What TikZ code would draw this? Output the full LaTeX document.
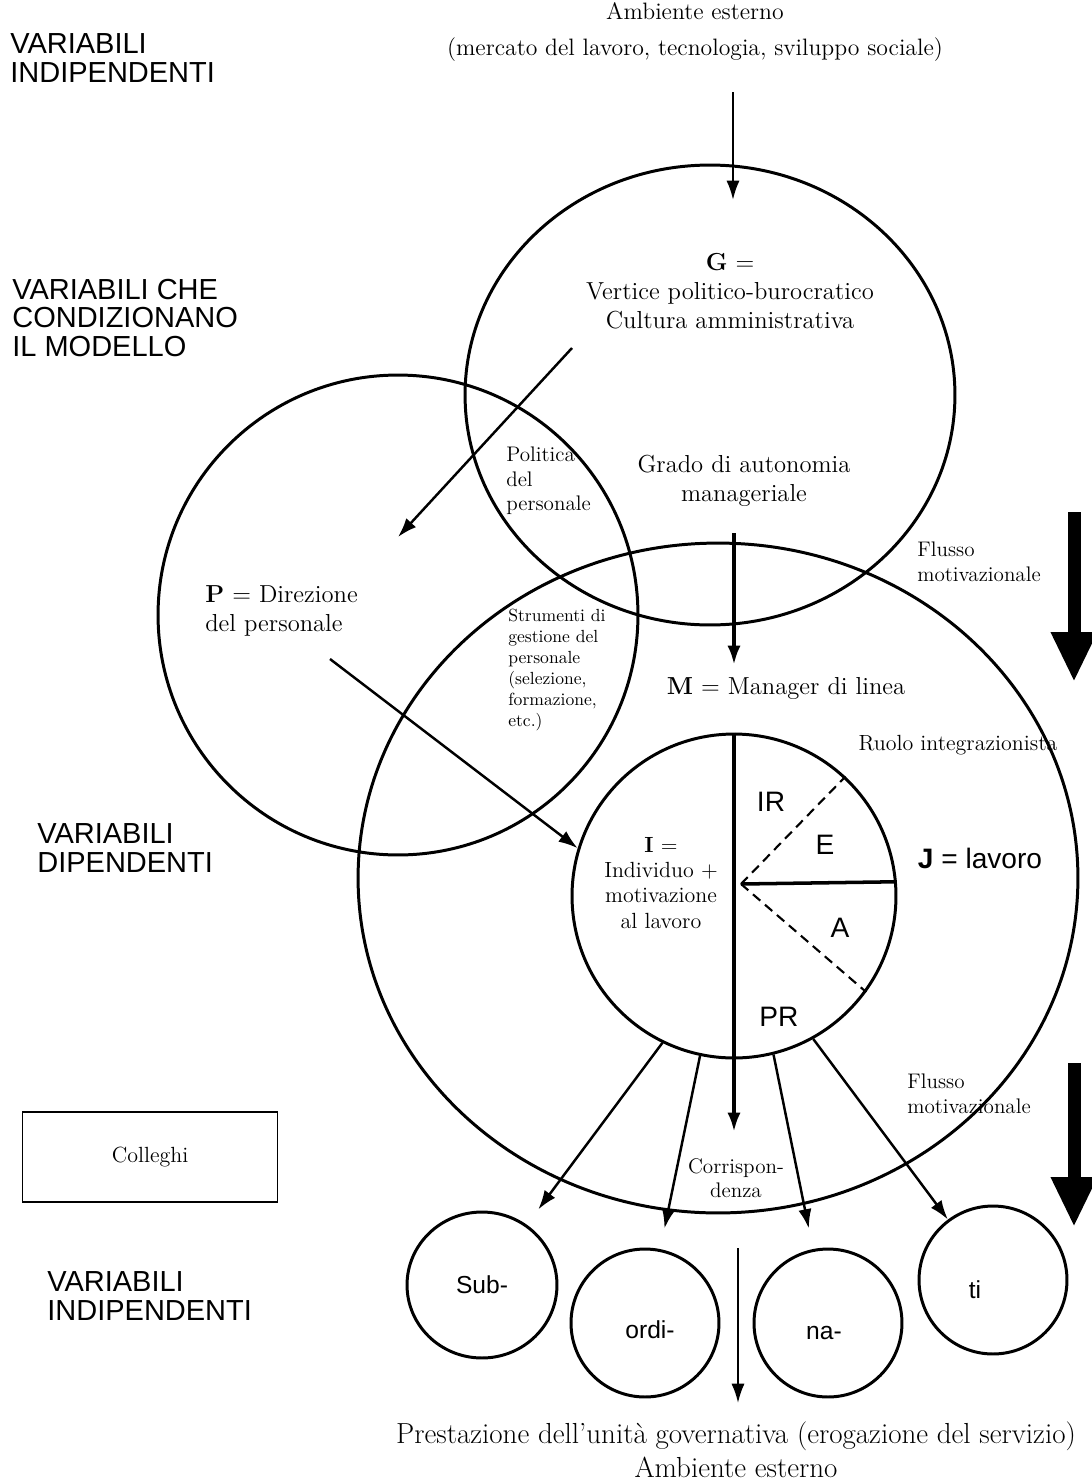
\documentclass[tikz,border=0pt]{standalone}
\usepackage{fontspec}
\setsansfont{Liberation Sans}
\usepackage{tikz}
\usetikzlibrary{shapes.geometric, arrows.meta, positioning}

\begin{document}
\begin{tikzpicture}[
    x=0.02cm, y=-0.02cm,
    ring/.style={draw, line width=1.7pt, inner sep=0pt},
    arr/.style={-{Latex[length=11pt,width=7.5pt]}, line width=1.4pt},
    heavy arr/.style={arr, line width=2.3pt},
    big arr/.style={-{Triangle[length=1cm,width=0.86cm]}, line width=0.26cm},
    txt/.style={font=\fontsize{14}{16.5}\selectfont, align=center, inner sep=0pt},
    note/.style={font=\fontsize{12}{14}\selectfont, align=left, inner sep=0pt},
    small note/.style={font=\fontsize{10}{12}\selectfont, align=left, inner sep=0pt},
    var/.style={font=\sffamily\fontsize{16.5}{16}\selectfont, align=left, anchor=west, inner sep=0pt},
    lab/.style={font=\sffamily\fontsize{16}{18}\selectfont, inner sep=0pt},
    sublab/.style={font=\sffamily\fontsize{14}{16}\selectfont, inner sep=0pt}
]
    \useasboundingbox (0,0) rectangle (1092,1481);

    % the four rings of the model
    \node[ring, ellipse, minimum width=9.8cm, minimum height=9.2cm] (G) at (710,395) {};
    \node[ring, circle, minimum size=9.6cm] (P) at (398,615) {};
    \node[ring, ellipse, minimum width=14.4cm, minimum height=13.4cm] (M) at (718,878) {};
    \node[ring, circle, minimum size=6.48cm] (I) at (734,896) {};

    % subordinates
    \node[ring, ellipse, minimum width=3cm, minimum height=2.92cm] (sub) at (482,1285) {};
    \node[ring, circle, minimum size=2.96cm] (ordi) at (645,1323) {};
    \node[ring, circle, minimum size=2.96cm] (na) at (828,1323) {};
    \node[ring, circle, minimum size=2.96cm] (ti) at (993,1280) {};
    \node[sublab] at (482,1285) {Sub-};
    \node[sublab] at (650,1330) {ordi-};
    \node[sublab] at (824,1333) {na-};
    \node[sublab] at (975,1290) {ti};

    \node[draw, line width=1pt, minimum width=5.1cm, minimum height=1.8cm,
          font=\fontsize{12.5}{14}\selectfont] (coll) at (150,1157) {Colleghi};

    % left column
    \node[var] (v1) at (10,58) {VARIABILI\\INDIPENDENTI};
    \node[var] (v2) at (12,318) {VARIABILI CHE\\CONDIZIONANO\\IL MODELLO};
    \node[var] (v3) at (37,848) {VARIABILI\\DIPENDENTI};
    \node[var] (v4) at (47,1296) {VARIABILI\\INDIPENDENTI};

    % texts
    \node[txt, font=\fontsize{13.5}{16}\selectfont] (amb) at (695,32) {Ambiente esterno\\[5pt](mercato del lavoro, tecnologia, sviluppo sociale)};
    \node[txt] (gtext) at (730,291) {\textbf{G} =\\Vertice politico-burocratico\\Cultura amministrativa};
    \node[txt] (grado) at (744,481) {Grado di autonomia\\manageriale};
    \node[note, anchor=west] (pol) at (506,481) {Politica\\del\\personale};
    \node[txt, align=left, anchor=west] (ptext) at (205,611) {\textbf{P} = Direzione\\del personale};
    \node[small note, anchor=west] (strum) at (508,670) {Strumenti di\\gestione del\\personale\\(selezione,\\formazione,\\etc.)};
    \node[txt] (mtext) at (786,688) {\textbf{M} = Manager di linea};
    \node[note, font=\fontsize{12.5}{14}\selectfont] (ruolo) at (958,745) {Ruolo integrazionista};
    \node[txt, font=\fontsize{12.5}{14.3}\selectfont] (itext) at (661,883) {\textbf{I} =\\Individuo +\\motivazione\\al lavoro};
    \node[lab] (jtext) at (980,858) {\textbf{J} = lavoro};
    \node[lab] (ir) at (771,802) {IR};
    \node[lab] (e) at (825,845) {E};
    \node[lab] (a) at (840,928) {A};
    \node[lab] (pr) at (779,1017) {PR};
    \node[note, anchor=west] (fl1) at (917,562) {Flusso\\motivazionale};
    \node[note, anchor=west] (fl2) at (907,1094) {Flusso\\motivazionale};
    \node[note, align=center] (corr) at (736,1178) {Corrispon-\\denza};
    \node[txt, font=\fontsize{16.5}{18.5}\selectfont] (prest) at (736,1450) {Prestazione dell’unità governativa (erogazione del servizio)\\[1pt]Ambiente esterno};

    % free ends of the connectors
    \coordinate (top0) at (733,92);
    \coordinate (top1) at (733,200);
    \coordinate (g0) at (572,348);
    \coordinate (p0) at (398,537);
    \coordinate (p1) at (330,659);
    \coordinate (m0) at (734,533);
    \coordinate (m1) at (734,665);
    \coordinate (c1) at (734,1132);
    \coordinate (hub) at (741,884);
    \coordinate (b0) at (738,1248);
    \coordinate (b1) at (738,1403);
    \coordinate (f0) at (1074,512);
    \coordinate (f1) at (1074,682);
    \coordinate (f2) at (1074,1063);
    \coordinate (f3) at (1074,1227);

    \draw[arr] (top0) -- (top1);
    \draw[arr] (g0) -- (p0);
    \draw[arr] (p1) -- (I.163);
    \draw[heavy arr] (m0) -- (m1);
    \draw[heavy arr] (I.north) -- (c1);
    \draw[line width=2pt] (hub) -- (I.5);
    \draw[line width=1.2pt, dash pattern=on 5.5pt off 3.5pt] (hub) -- (I.47);
    \draw[line width=1.2pt, dash pattern=on 5.5pt off 3.5pt] (hub) -- (I.-36);
    \draw[arr, shorten >=0.38cm] (I.-116.6) -- (sub);
    \draw[arr, shorten >=0.42cm] (I.-102) -- (ordi);
    \draw[arr, shorten >=0.42cm] (I.-76) -- (na);
    \draw[arr] (I.-61) -- (ti);
    \draw[arr, line width=1.2pt] (b0) -- (b1);
    \draw[big arr] (f0) -- (f1);
    \draw[big arr] (f2) -- (f3);
\end{tikzpicture}
\end{document}
